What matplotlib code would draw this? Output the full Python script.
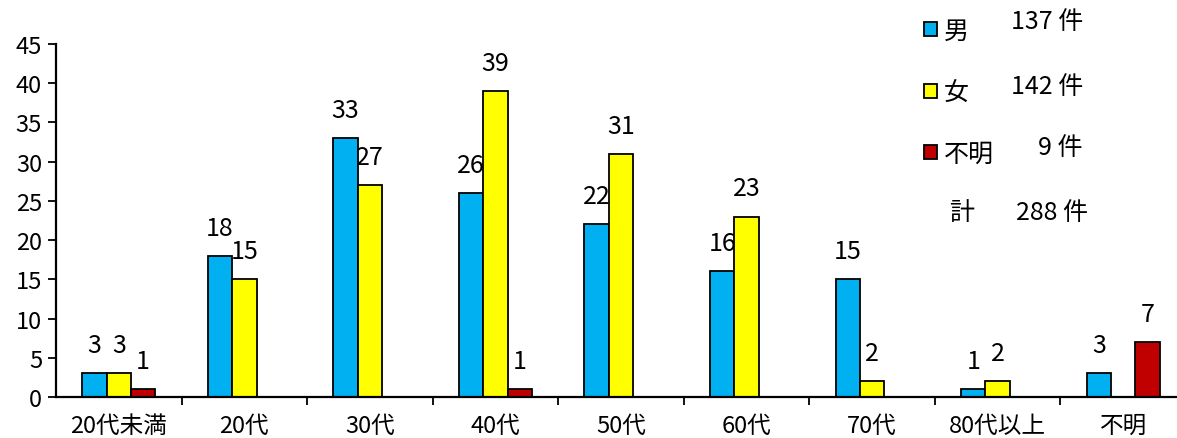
import matplotlib.pyplot as plt
import numpy as np

# age groups and counts per sex
age_groups = ["20代未満", "20代", "30代", "40代", "50代", "60代", "70代", "80代以上", "不明"]
male = [3, 18, 33, 26, 22, 16, 15, 1, 3]
female = [3, 15, 27, 39, 31, 23, 2, 2, 0]
unknown = [1, 0, 0, 1, 0, 0, 0, 0, 7]
series_names = ["男", "女", "不明"]
totals = [137, 142, 9]
grand_total = 288

colors = ["#00B0F0", "#FFFF00", "#C00000"]

plt.rcParams["font.family"] = ["Noto Sans CJK JP", "DejaVu Sans"]
plt.rcParams["font.size"] = 17

fig = plt.figure(figsize=(11.77, 4.39), dpi=100)
# axes runs a bit past the right edge of the figure
ax = fig.add_axes([56 / 1177, 41 / 439, 1130 / 1177, 353 / 439])

x = np.arange(len(age_groups))
width = 0.194
for i, (vals, col) in enumerate(zip([male, female, unknown], colors)):
    pos = x + (i - 1) * width
    ax.bar(pos, vals, width, color=col, edgecolor="black", linewidth=1.3,
           label=series_names[i])
    for p, v in zip(pos, vals):
        if v > 0:
            ax.annotate(str(v), (p, v), xytext=(0, 11), textcoords="offset points",
                        ha="center", va="bottom", fontsize=18)

ax.set_xlim(-0.5, len(age_groups) - 0.5)
ax.set_ylim(0, 45)
ax.set_yticks(range(0, 46, 5))
ax.set_xticks(x)
ax.set_xticklabels(age_groups)
ax.set_xticks(np.arange(0.5, len(age_groups) - 0.5, 1), minor=True)
ax.tick_params(axis="x", which="major", length=0, pad=12)
ax.tick_params(axis="x", which="minor", length=6, width=1.3, direction="out")
ax.tick_params(axis="y", length=6, width=1.3, direction="out", pad=4)
for s in ["top", "right"]:
    ax.spines[s].set_visible(False)
for s in ["left", "bottom"]:
    ax.spines[s].set_linewidth(1.6)

leg = fig.legend(loc="upper left", bbox_to_anchor=(909 / 1177, 1 - 4 / 439),
                 frameon=False, handlelength=0.5, handleheight=0.5,
                 handletextpad=0.3, labelspacing=1.42, fontsize=18,
                 borderaxespad=0.2)

# totals beside the legend entries
count_y = [22, 87, 148]
for n, yy in zip(totals, count_y):
    fig.text(1083 / 1177, 1 - yy / 439, f"{n} 件", ha="right", va="center", fontsize=18)
fig.text(962 / 1177, 1 - 213 / 439, "計", ha="center", va="center", fontsize=18)
fig.text(1088 / 1177, 1 - 213 / 439, f"{grand_total} 件", ha="right", va="center", fontsize=18)

fig.savefig("out.png", dpi=100)
